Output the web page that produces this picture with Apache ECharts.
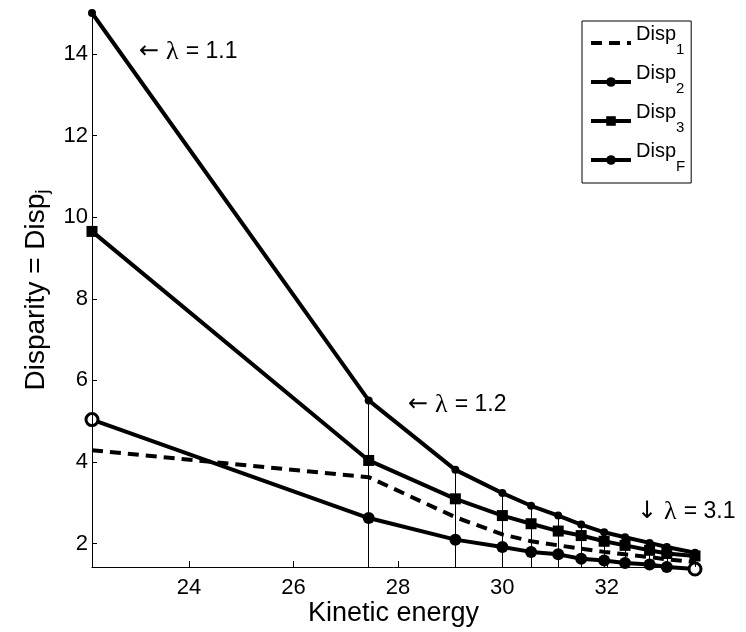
<!DOCTYPE html>
<html><head><meta charset="utf-8">
<script src="https://cdn.jsdelivr.net/npm/echarts@6/dist/echarts.min.js"></script>
<style>html,body{margin:0;padding:0;background:#fff}#c{width:746px;height:632px}</style>
</head><body><div id="c"></div>
<script>
// ---- data ----
const energy = [22.14, 27.44, 29.10, 30.00, 30.55, 31.07, 31.51, 31.95, 32.35, 32.82, 33.15, 33.69];
const disp1  = [4.29, 3.63, 2.65, 2.23, 2.06, 1.96, 1.88, 1.80, 1.74, 1.67, 1.62, 1.55];
const disp2  = [5.04, 2.63, 2.10, 1.92, 1.80, 1.74, 1.63, 1.59, 1.53, 1.49, 1.43, 1.38];
const disp3  = [9.65, 4.04, 3.10, 2.69, 2.49, 2.31, 2.20, 2.06, 1.96, 1.84, 1.76, 1.70];
const dispF  = [15.0, 5.51, 3.81, 3.24, 2.93, 2.69, 2.47, 2.28, 2.16, 2.02, 1.92, 1.78];
const xTicks = [24, 26, 28, 30, 32];
const yTicks = [2, 4, 6, 8, 10, 12, 14];
const seriesNames = ['Disp1', 'Disp2', 'Disp3', 'DispF'];
const subscripts  = ['1', '2', '3', 'F'];
const annoArrows  = ['\u2190', '\u2190', '\u2193'];
const annoLambda  = ['1.1', '1.2', '3.1'];

// ---- layout / style ----
const FONT = '"Liberation Sans", Arial, Helvetica, sans-serif';
const ARROW_FONT = '"DejaVu Sans", sans-serif';
const LAMBDA_FONT = '"Liberation Serif", "DejaVu Serif", serif';
const xMin = 22.14, xMax = 33.69, yMin = 1.43, yMax = 15;
const last = energy.length - 1;
function pts(ys) { return energy.map((x, i) => [x, ys[i]]); }

const chart = echarts.init(document.getElementById('c'), null, {renderer: 'canvas'});

const disp2Data = energy.map((x, i) => (i === 0 || i === last)
  ? {value: [x, disp2[i]], itemStyle: {color: '#fff', borderColor: '#000', borderWidth: 3}}
  : [x, disp2[i]]);

const stemData = energy.map((x, i) => [{coord: [x, yMin]}, {coord: [x, dispF[i]]}]);

const annoPos = [[139, 52], [408, 405], [637, 512]];

const legendData = seriesNames.map((n, i) => i === 0
  ? {name: n, itemStyle: {opacity: 0}}
  : {name: n});

const option = {
  animation: false,
  backgroundColor: '#fff',
  grid: {left: 92, right: 51, top: 13, bottom: 65, containLabel: false, outerBoundsMode: 'none'},
  xAxis: {
    type: 'value', min: xMin, max: xMax,
    name: 'Kinetic energy', nameLocation: 'middle', nameGap: 33, nameMoveOverlap: false,
    nameTextStyle: {fontFamily: FONT, fontSize: 27, color: '#000'},
    axisLine: {show: true, onZero: false, lineStyle: {color: '#000', width: 1}},
    axisTick: {show: true, inside: true, length: 6, customValues: xTicks, lineStyle: {color: '#000', width: 1}},
    axisLabel: {customValues: xTicks, fontFamily: FONT, fontSize: 22, color: '#000', margin: 10},
    splitLine: {show: false}
  },
  yAxis: {
    type: 'value', min: yMin, max: yMax,
    name: '{a|Disparity = Disp}{b|j}', nameLocation: 'middle', nameGap: 40, nameRotate: 90, nameMoveOverlap: false,
    nameTextStyle: {color: '#000', rich: {
      a: {fontFamily: FONT, fontSize: 28, color: '#000'},
      b: {fontFamily: FONT, fontSize: 19, color: '#000', padding: [13, 0, 0, 0]}
    }},
    axisLine: {show: true, onZero: false, lineStyle: {color: '#000', width: 1}},
    axisTick: {show: true, inside: true, length: 5, customValues: yTicks, lineStyle: {color: '#000', width: 1}},
    axisLabel: {customValues: yTicks, fontFamily: FONT, fontSize: 22, color: '#000', margin: 4},
    splitLine: {show: false}
  },
  legend: {
    orient: 'vertical', left: 582, top: 21, padding: [3, 6, 4, 7], itemGap: 1,
    itemWidth: 40, itemHeight: 12, borderColor: '#000', borderWidth: 1, borderRadius: 0,
    backgroundColor: '#fff', selectedMode: false, data: legendData,
    lineStyle: {width: 4},
    formatter: name => '{a|Disp}{b|' + subscripts[seriesNames.indexOf(name)] + '}',
    textStyle: {color: '#000', rich: {
      a: {fontFamily: FONT, fontSize: 20, lineHeight: 20, color: '#000', padding: [0, 0, 18, 0], verticalAlign: 'middle'},
      b: {fontFamily: FONT, fontSize: 15, lineHeight: 15, color: '#000', padding: [14, 0, 0, 0], verticalAlign: 'middle'}
    }}
  },
  series: [
    {name: seriesNames[0], type: 'line', data: pts(disp1), symbol: 'none', clip: false,
     lineStyle: {color: '#000', width: 4, type: [11, 7]}, itemStyle: {color: '#000'}, z: 3},
    {name: seriesNames[1], type: 'line', data: disp2Data, symbol: 'circle', symbolSize: 12, clip: false,
     lineStyle: {color: '#000', width: 4}, itemStyle: {color: '#000'}, z: 4},
    {name: seriesNames[2], type: 'line', data: pts(disp3), symbol: 'rect', symbolSize: 11, clip: false,
     lineStyle: {color: '#000', width: 4}, itemStyle: {color: '#000'}, z: 4},
    {name: seriesNames[3], type: 'line', data: pts(dispF), symbol: 'circle', symbolSize: 8, clip: false,
     lineStyle: {color: '#000', width: 4}, itemStyle: {color: '#000'}, z: 4,
     markLine: {silent: true, symbol: ['none', 'none'], label: {show: false}, animation: false,
       lineStyle: {color: '#000', width: 1, type: 'solid'}, emphasis: {disabled: true}, data: stemData}}
  ],
  graphic: annoPos.map((p, i) => ({
    type: 'text', x: p[0], y: p[1], silent: true,
    style: {
      text: '{arr|' + annoArrows[i] + '}{lam|\u03bb}{t|= ' + annoLambda[i] + '}',
      fill: '#000', verticalAlign: 'middle', align: 'left',
      rich: {
        arr: {fontFamily: ARROW_FONT, fontSize: 24, fill: '#000', padding: [0, 7, 0, 0]},
        lam: {fontFamily: LAMBDA_FONT, fontSize: 26, fill: '#000', padding: [0, 7, 0, 0]},
        t: {fontFamily: FONT, fontSize: 23, fill: '#000'}
      }
    }
  }))
};
chart.setOption(option);
</script>
</body></html>
